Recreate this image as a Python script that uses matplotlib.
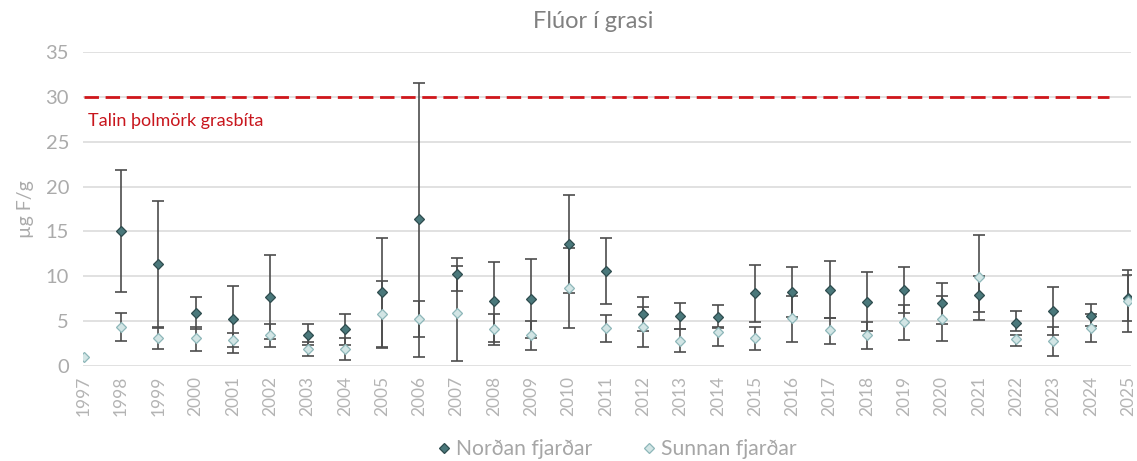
import numpy as np
import matplotlib
matplotlib.use("Agg")
import matplotlib.pyplot as plt
from matplotlib.lines import Line2D

nan = np.nan
years = list(range(1997, 2026))

nordan = [nan, 15.0, 11.35, 5.9, 5.2, 7.7, 3.4, 4.1, 8.25, 16.35, 10.2, 7.25, 7.5, 13.65,
          10.6, 5.8, 5.6, 5.5, 8.1, 8.3, 8.5, 7.15, 8.5, 7.0, 7.9, 4.8, 6.15, 5.55, 7.6]
nordan_lo = [nan, 8.2, 4.25, 4.1, 2.1, 3.0, 2.3, 2.3, 2.0, 1.05, 8.4, 2.7, 3.1, 8.15,
             6.9, 3.9, 4.15, 4.2, 4.9, 5.5, 5.4, 3.85, 5.9, 4.7, 5.1, 3.9, 3.4, 4.5, 5.05]
nordan_hi = [nan, 21.8, 18.35, 7.65, 8.95, 12.4, 4.65, 5.8, 14.25, 31.6, 12.0, 11.6, 11.95, 19.1,
             14.25, 7.65, 7.0, 6.8, 11.3, 11.0, 11.65, 10.5, 11.05, 9.3, 14.65, 6.1, 8.85, 6.9, 10.7]

sunnan = [1.0, 4.4, 3.1, 3.1, 2.9, 3.4, 1.9, 1.9, 5.75, 5.2, 5.9, 4.1, 3.4, 8.7,
          4.25, 4.4, 2.8, 3.8, 3.1, 5.3, 4.0, 3.4, 4.95, 5.25, 9.9, 3.05, 2.8, 4.25, 7.3]
sunnan_lo = [nan, 2.8, 1.9, 1.7, 1.5, 2.1, 1.1, 0.65, 2.1, 3.2, 0.6, 2.3, 1.8, 4.25,
             2.7, 2.15, 1.55, 2.25, 1.8, 2.7, 2.45, 1.85, 2.95, 2.8, 6.05, 2.25, 1.15, 2.7, 3.8]
sunnan_hi = [nan, 5.95, 4.35, 4.4, 3.7, 4.65, 2.7, 3.1, 9.45, 7.25, 11.2, 5.85, 5.0, 13.2,
             5.7, 6.55, 4.15, 4.4, 4.35, 7.85, 5.3, 4.95, 6.85, 7.75, 10.0, 3.5, 4.3, 5.8, 10.1]

threshold = 30
threshold_label = "Talin þolmörk grasbíta"
title = "Flúor í grasi"
ylabel = "µg F/g"
series_names = ["Norðan fjarðar", "Sunnan fjarðar"]

plt.rcParams['font.family'] = ['Lato', 'DejaVu Sans']

fig = plt.figure(figsize=(11.37, 4.61), dpi=100)
ax = fig.add_axes([83/1137, 1-366/461, (1131-83)/1137, (366-52)/461])

x = np.array(years, dtype=float)
tick_gray = "#ABABAB"
err_col = "#4D4D4D"

def draw_err(vals, lo, hi):
    v = np.array(vals, float); l = np.array(lo, float); h = np.array(hi, float)
    m = np.isfinite(v) & np.isfinite(l) & np.isfinite(h)
    ax.errorbar(x[m], v[m], yerr=[v[m]-l[m], h[m]-v[m]], fmt='none',
                ecolor=err_col, elinewidth=1.2, capsize=4.2, capthick=1.2, zorder=3)

draw_err(nordan, nordan_lo, nordan_hi)
draw_err(sunnan, sunnan_lo, sunnan_hi)

n_style = dict(marker='D', ms=5.4, mfc='#4A787B', mec='#2E4C4E', mew=0.9, ls='none')
s_style = dict(marker='D', ms=5.4, mfc='#D2E5E5', mec='#8DB7B9', mew=0.9, ls='none')
ax.plot(x, nordan, zorder=4, **n_style)
ax.plot(x, sunnan, zorder=5, **s_style)

ax.hlines(threshold, years[0], years[-1] - 0.5, colors='#D0161B', linestyles=(0, (5.2, 2.4)),
          linewidth=2.0, zorder=2)
ax.text(years[0] + 0.12, threshold - 2.7, threshold_label, color='#C8161D', fontsize=13,
        va='center', ha='left')

ax.set_xlim(years[0] - 0.02, years[-1] + 0.08)
ax.set_ylim(0, 35)
ax.set_yticks(range(0, 36, 5))
ax.set_xticks(years)
ax.set_xticklabels([str(y) for y in years], rotation=90, fontsize=12.5, color='#B4B4B4')
ax.tick_params(axis='y', labelsize=14.5, labelcolor=tick_gray, length=0, pad=10)
ax.tick_params(axis='x', length=0, pad=7)
ax.grid(axis='y', color='#D9D9D9', linewidth=1.1, zorder=0)
ax.set_axisbelow(True)
for s in ax.spines.values():
    s.set_visible(False)
ax.set_ylabel(ylabel, color=tick_gray, fontsize=14, labelpad=8)

fig.text(593/1137, 1-22/461, title, ha='center', va='center', fontsize=17, color='#808080')

leg_n = dict(n_style, ms=4.6)
leg_s = dict(s_style, ms=4.6)
handles = [Line2D([], [], **leg_n), Line2D([], [], **leg_s)]
ax.legend(handles, series_names, loc='center', bbox_to_anchor=(615/1137, 1-449/461),
          bbox_transform=fig.transFigure, ncol=2, frameon=False, fontsize=15.2,
          labelcolor='#A6A6A6', handletextpad=0.05, columnspacing=2.2, handlelength=1.0)

fig.savefig("out.png", dpi=100)
